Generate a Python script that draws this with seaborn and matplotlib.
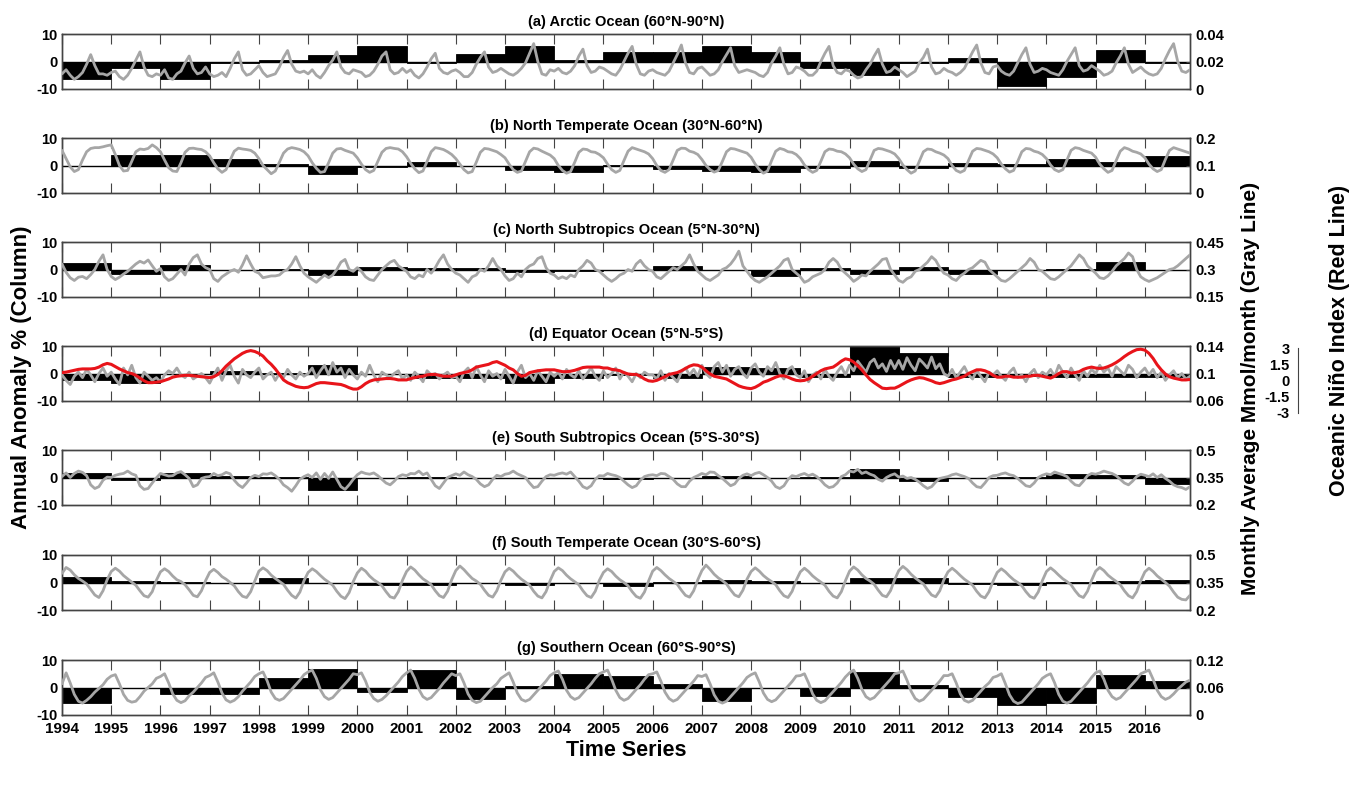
import numpy as np
import pandas as pd
import matplotlib
matplotlib.use("Agg")
import matplotlib.pyplot as plt
import seaborn as sns

sns.set_style("white")
plt.rcParams['font.family'] = ['Liberation Sans', 'DejaVu Sans']
plt.rcParams['font.weight'] = 'bold'
plt.rcParams['text.color'] = 'black'
plt.rcParams['axes.labelcolor'] = 'black'
plt.rcParams['xtick.color'] = 'black'
plt.rcParams['ytick.color'] = 'black'

years = list(range(1994, 2017))
titles = ["(a) Arctic Ocean (60°N-90°N)", "(b) North Temperate Ocean (30°N-60°N)",
          "(c) North Subtropics Ocean (5°N-30°N)", "(d) Equator Ocean (5°N-5°S)",
          "(e) South Subtropics Ocean (5°S-30°S)", "(f) South Temperate Ocean (30°S-60°S)",
          "(g) Southern Ocean (60°S-90°S)"]

# Annual anomaly % (black columns), one per year 1994-2016
bars_a = [-6.5, -2.5, -6.2, -0.4, 0.6, 2.3, 5.8, -0.4, 2.9, 5.8, 0.6, 3.3, 3.3, 5.8, 3.6, -2.3, -5.0, -0.4, 1.2, -8.8, -5.8, 4.1, -0.4]
bars_b = [-0.3, 4.0, 3.7, 2.5, 0.5, -3.1, -0.6, 1.4, -0.3, -1.5, -2.3, 0.2, -1.1, -2.0, -2.3, -0.9, 1.7, -0.9, 0.8, 0.6, 2.5, 1.4, 3.4]
bars_c = [2.4, -1.6, 1.8, 0.0, 0.1, -2.0, 0.9, 0.7, 0.7, -1.0, -0.6, -0.3, 1.1, -0.2, -2.5, 0.6, -1.7, 0.9, -1.6, -0.2, 0.1, 2.6, 0.0]
bars_d = [-2.3, -3.4, -0.2, 1.0, 0.3, 3.1, -0.2, -1.7, -1.5, -3.6, -1.5, -0.4, -1.6, 2.5, 1.9, -1.3, 10.5, 7.5, -1.1, -1.0, -1.1, -1.1, -1.2]
bars_e = [1.5, -0.9, 1.5, 0.6, 0.3, -4.4, 0.0, 0.2, -0.3, -0.2, -0.2, -0.7, -0.3, 0.5, -0.2, 0.2, 3.2, -1.1, -0.1, 0.1, 1.3, 0.9, -2.4]
bars_f = [2.0, 0.6, 0.3, -0.2, 1.6, 0.0, -1.0, -1.0, -0.3, -0.8, -0.3, -1.2, 0.3, 1.0, 0.4, 0.0, 1.5, 1.7, -0.6, -0.8, 0.3, 0.5, 1.0]
bars_g = [-5.8, -0.3, -2.5, -2.3, 3.5, 6.6, -1.7, 6.4, -4.1, 0.6, 5.0, 4.1, 1.2, -5.0, -0.2, -3.2, 5.6, 0.9, -3.5, -6.2, -5.5, 4.4, 2.3]

# Monthly average mmol/month (gray lines), Jan 1994 - Dec 2016
gray_a = [
 .011,.014,.010,.007,.009,.012,.018,.025,.017,.011,.011,.010,
 .012,.013,.009,.007,.010,.015,.021,.027,.016,.010,.009,.011,
 .010,.014,.008,.007,.011,.013,.019,.024,.015,.011,.012,.016,
 .011,.009,.010,.012,.009,.015,.022,.027,.014,.010,.011,.014,
 .017,.012,.009,.010,.011,.016,.023,.028,.018,.013,.012,.013,
 .011,.014,.010,.008,.012,.017,.021,.027,.016,.012,.011,.014,
 .013,.012,.009,.010,.013,.018,.024,.027,.014,.011,.012,.015,
 .012,.014,.010,.008,.011,.016,.022,.026,.015,.012,.011,.013,
 .014,.012,.009,.009,.012,.018,.023,.027,.016,.012,.013,.015,
 .013,.011,.010,.012,.015,.019,.026,.033,.020,.011,.010,.014,
 .013,.015,.012,.011,.013,.017,.024,.029,.017,.012,.013,.016,
 .015,.013,.011,.010,.014,.020,.026,.031,.018,.011,.010,.013,
 .014,.012,.011,.010,.013,.019,.025,.032,.019,.012,.011,.015,
 .016,.013,.010,.011,.014,.020,.025,.030,.017,.012,.013,.014,
 .013,.012,.010,.009,.012,.019,.024,.030,.018,.011,.012,.016,
 .015,.013,.010,.010,.013,.020,.026,.031,.017,.012,.011,.014,
 .013,.010,.008,.009,.014,.018,.024,.029,.018,.012,.013,.016,
 .014,.012,.009,.011,.013,.019,.023,.029,.016,.011,.012,.015,
 .013,.012,.010,.012,.015,.021,.027,.032,.019,.012,.011,.016,
 .017,.013,.011,.010,.013,.019,.025,.030,.018,.012,.013,.015,
 .014,.012,.011,.010,.014,.020,.025,.030,.017,.013,.014,.017,
 .015,.013,.010,.011,.013,.019,.024,.030,.018,.012,.014,.016,
 .013,.011,.010,.011,.015,.022,.028,.033,.020,.013,.012,.014]
gray_b = [
 .155,.125,.095,.078,.085,.120,.150,.162,.165,.165,.168,.172,
 .175,.140,.100,.080,.082,.115,.150,.160,.158,.162,.175,.165,
 .150,.120,.092,.080,.078,.110,.148,.162,.163,.160,.158,.150,
 .135,.110,.088,.075,.085,.120,.152,.163,.160,.158,.155,.145,
 .125,.100,.085,.070,.080,.112,.145,.160,.165,.162,.158,.150,
 .135,.110,.090,.075,.078,.110,.145,.160,.162,.155,.150,.145,
 .128,.105,.085,.075,.082,.115,.148,.162,.165,.162,.160,.150,
 .132,.108,.088,.074,.080,.115,.150,.165,.162,.158,.150,.140,
 .125,.105,.085,.073,.078,.112,.148,.162,.160,.155,.150,.140,
 .128,.105,.085,.075,.080,.115,.150,.163,.160,.152,.145,.138,
 .125,.100,.082,.072,.078,.112,.148,.160,.158,.150,.148,.140,
 .128,.105,.085,.075,.082,.118,.152,.165,.160,.155,.150,.142,
 .125,.100,.082,.075,.085,.120,.155,.163,.162,.152,.148,.140,
 .122,.100,.085,.076,.082,.115,.150,.162,.160,.155,.150,.145,
 .130,.105,.085,.072,.080,.118,.152,.162,.158,.150,.148,.140,
 .125,.102,.085,.075,.082,.115,.150,.160,.158,.152,.150,.142,
 .128,.105,.088,.078,.085,.120,.155,.162,.160,.155,.150,.142,
 .125,.102,.085,.072,.080,.115,.150,.160,.158,.150,.145,.138,
 .125,.100,.082,.075,.082,.118,.152,.162,.160,.155,.150,.142,
 .128,.105,.088,.076,.082,.115,.150,.162,.160,.152,.148,.140,
 .125,.102,.085,.078,.085,.120,.155,.165,.162,.155,.150,.145,
 .130,.105,.088,.075,.082,.118,.152,.165,.160,.152,.148,.142,
 .128,.105,.088,.078,.085,.122,.155,.165,.160,.155,.150,.145]
gray_c = [
 .330,.285,.255,.240,.258,.262,.250,.272,.300,.345,.380,.300,
 .262,.245,.258,.275,.290,.310,.330,.345,.335,.352,.320,.290,
 .305,.260,.240,.250,.275,.300,.270,.330,.365,.380,.330,.310,
 .300,.250,.235,.260,.275,.290,.300,.285,.325,.375,.330,.290,
 .280,.255,.260,.265,.265,.270,.290,.300,.330,.370,.320,.280,
 .260,.245,.230,.250,.270,.255,.270,.300,.340,.355,.300,.290,
 .310,.290,.260,.245,.240,.270,.300,.320,.340,.350,.320,.305,
 .290,.260,.250,.270,.260,.300,.280,.310,.350,.380,.330,.300,
 .280,.270,.250,.230,.260,.270,.300,.290,.320,.360,.320,.300,
 .265,.240,.250,.280,.260,.300,.320,.330,.360,.370,.310,.280,
 .270,.250,.260,.250,.270,.260,.300,.320,.350,.335,.300,.290,
 .270,.250,.235,.250,.270,.280,.300,.290,.330,.350,.320,.300,
 .290,.260,.250,.270,.290,.310,.300,.320,.340,.380,.330,.290,
 .270,.250,.240,.255,.270,.300,.310,.330,.360,.400,.320,.290,
 .260,.240,.230,.245,.260,.280,.300,.320,.350,.360,.300,.280,
 .260,.230,.240,.260,.270,.280,.300,.340,.360,.340,.300,.280,
 .260,.235,.250,.270,.265,.290,.310,.330,.355,.360,.300,.270,
 .240,.230,.250,.260,.290,.300,.320,.340,.370,.350,.310,.280,
 .270,.250,.240,.265,.280,.300,.310,.330,.350,.340,.300,.280,
 .260,.240,.235,.250,.270,.290,.310,.330,.360,.340,.300,.290,
 .270,.250,.245,.260,.280,.300,.320,.350,.380,.360,.320,.300,
 .280,.255,.250,.265,.290,.320,.340,.360,.390,.370,.300,.260,
 .245,.235,.245,.255,.270,.285,.300,.305,.320,.340,.360,.380]
gray_d = [
 .098,.090,.084,.096,.102,.094,.106,.098,.088,.100,.108,.096,
 .102,.092,.084,.108,.098,.112,.094,.086,.102,.096,.090,.094,
 .088,.098,.104,.100,.108,.098,.094,.102,.092,.096,.100,.094,
 .086,.098,.108,.090,.104,.112,.096,.086,.106,.098,.094,.102,
 .108,.092,.098,.102,.090,.100,.094,.106,.098,.092,.102,.096,
 .100,.108,.094,.104,.112,.098,.116,.102,.108,.094,.106,.098,
 .092,.102,.096,.112,.098,.088,.102,.098,.094,.100,.104,.092,
 .098,.090,.102,.096,.088,.104,.098,.100,.092,.098,.102,.094,
 .096,.088,.102,.108,.094,.110,.098,.088,.104,.096,.100,.092,
 .106,.096,.086,.102,.112,.094,.100,.090,.104,.096,.088,.102,
 .096,.102,.092,.106,.098,.094,.104,.092,.100,.108,.096,.090,
 .104,.094,.100,.108,.092,.102,.096,.088,.100,.094,.102,.098,
 .098,.092,.104,.090,.100,.094,.088,.102,.108,.098,.106,.096,
 .112,.100,.094,.110,.116,.102,.112,.096,.106,.110,.100,.094,
 .108,.114,.102,.096,.110,.104,.116,.100,.092,.106,.110,.098,
 .094,.104,.088,.098,.102,.092,.106,.096,.090,.102,.110,.098,
 .112,.104,.118,.110,.102,.116,.121,.108,.114,.103,.119,.107,
 .119,.106,.123,.112,.104,.121,.115,.108,.124,.107,.114,.100,
 .096,.106,.094,.102,.110,.098,.092,.104,.096,.088,.102,.098,
 .104,.096,.090,.102,.108,.094,.098,.088,.100,.106,.094,.102,
 .098,.106,.096,.112,.102,.094,.108,.098,.090,.104,.096,.106,
 .100,.112,.102,.108,.096,.110,.104,.098,.112,.106,.094,.102,
 .108,.098,.106,.094,.102,.090,.098,.104,.094,.100,.092,.096]
gray_e = [
 .355,.375,.350,.372,.385,.378,.360,.310,.290,.300,.335,.352,
 .350,.362,.368,.372,.385,.370,.362,.305,.285,.290,.320,.348,
 .372,.365,.358,.360,.375,.382,.365,.345,.300,.310,.345,.352,
 .355,.372,.360,.365,.378,.370,.335,.310,.295,.320,.350,.362,
 .355,.370,.368,.375,.360,.340,.310,.295,.275,.305,.340,.355,
 .365,.350,.375,.340,.372,.345,.380,.340,.300,.285,.310,.340,
 .365,.380,.372,.368,.375,.360,.340,.320,.310,.330,.355,.365,
 .360,.372,.370,.385,.365,.375,.340,.305,.290,.320,.350,.360,
 .370,.362,.380,.365,.355,.340,.315,.300,.310,.340,.362,.355,
 .368,.372,.385,.370,.360,.350,.320,.295,.300,.330,.355,.365,
 .362,.370,.375,.368,.380,.355,.330,.300,.290,.305,.340,.360,
 .358,.372,.365,.360,.350,.330,.310,.295,.305,.335,.355,.362,
 .365,.360,.372,.370,.355,.340,.315,.300,.300,.330,.350,.360,
 .372,.365,.380,.378,.360,.345,.325,.305,.315,.345,.362,.370,
 .360,.372,.378,.365,.350,.330,.300,.290,.305,.340,.360,.355,
 .365,.372,.360,.368,.355,.335,.310,.295,.300,.320,.355,.365,
 .385,.380,.395,.372,.380,.368,.360,.340,.330,.350,.362,.370,
 .352,.358,.345,.350,.340,.325,.305,.290,.300,.325,.345,.350,
 .355,.365,.370,.362,.355,.345,.320,.300,.295,.320,.350,.360,
 .362,.370,.375,.365,.360,.345,.325,.305,.300,.320,.350,.362,
 .370,.365,.380,.372,.365,.355,.330,.310,.305,.330,.360,.372,
 .368,.375,.385,.378,.372,.360,.340,.320,.310,.330,.355,.368,
 .362,.355,.370,.350,.365,.345,.330,.310,.300,.295,.285,.300]
gray_f = [
 .400,.432,.418,.392,.372,.358,.342,.312,.282,.268,.305,.365,
 .410,.428,.412,.388,.370,.352,.335,.305,.278,.270,.300,.362,
 .408,.425,.410,.385,.365,.355,.338,.310,.280,.272,.305,.360,
 .405,.422,.405,.382,.368,.350,.332,.300,.275,.268,.300,.358,
 .412,.430,.415,.390,.372,.356,.340,.308,.280,.265,.298,.360,
 .405,.425,.410,.388,.368,.352,.335,.302,.275,.262,.295,.355,
 .402,.428,.412,.385,.365,.350,.332,.300,.272,.265,.300,.362,
 .410,.435,.418,.392,.370,.355,.338,.305,.278,.268,.302,.365,
 .415,.440,.420,.395,.372,.358,.340,.308,.280,.270,.305,.362,
 .408,.428,.412,.388,.368,.352,.335,.302,.276,.266,.300,.360,
 .410,.430,.415,.390,.370,.354,.338,.305,.278,.268,.302,.362,
 .405,.425,.410,.385,.365,.350,.332,.300,.274,.264,.298,.358,
 .412,.432,.415,.392,.372,.356,.340,.308,.280,.270,.305,.365,
 .415,.445,.422,.395,.375,.360,.342,.310,.282,.272,.308,.368,
 .410,.430,.412,.388,.370,.355,.338,.305,.278,.268,.302,.362,
 .408,.428,.410,.386,.368,.352,.335,.302,.276,.266,.300,.360,
 .412,.435,.418,.392,.372,.358,.340,.308,.280,.272,.306,.366,
 .415,.438,.420,.395,.375,.358,.342,.310,.282,.272,.305,.365,
 .408,.428,.410,.388,.368,.352,.335,.302,.276,.266,.300,.358,
 .405,.425,.408,.385,.365,.350,.332,.300,.274,.264,.298,.360,
 .410,.430,.412,.390,.370,.355,.338,.305,.278,.268,.302,.362,
 .412,.432,.415,.390,.372,.356,.338,.305,.278,.266,.300,.360,
 .408,.428,.410,.386,.368,.350,.330,.298,.270,.258,.255,.280]
gray_g = [
 .068,.092,.070,.045,.030,.026,.032,.040,.050,.058,.066,.078,
 .085,.088,.068,.045,.032,.028,.030,.040,.052,.060,.068,.080,
 .084,.090,.070,.046,.032,.027,.031,.042,.050,.060,.070,.082,
 .086,.092,.072,.048,.033,.028,.032,.040,.052,.062,.072,.084,
 .090,.094,.075,.050,.036,.032,.036,.046,.056,.066,.076,.088,
 .094,.098,.080,.055,.040,.034,.038,.048,.058,.068,.078,.090,
 .088,.092,.074,.050,.036,.030,.034,.042,.052,.062,.072,.084,
 .092,.098,.080,.056,.040,.034,.038,.048,.058,.070,.080,.090,
 .086,.090,.070,.046,.032,.027,.030,.040,.050,.060,.068,.080,
 .086,.092,.072,.048,.034,.030,.034,.044,.054,.064,.074,.086,
 .092,.096,.078,.054,.040,.034,.038,.048,.058,.068,.080,.090,
 .094,.098,.078,.054,.038,.032,.036,.046,.056,.066,.078,.088,
 .090,.094,.074,.050,.036,.030,.034,.044,.054,.064,.074,.086,
 .084,.088,.068,.044,.030,.026,.030,.040,.050,.060,.070,.082,
 .088,.092,.072,.048,.034,.029,.033,.043,.053,.063,.073,.085,
 .086,.090,.070,.046,.032,.027,.031,.041,.051,.061,.071,.083,
 .092,.098,.080,.056,.040,.034,.038,.048,.058,.068,.078,.090,
 .092,.096,.076,.052,.036,.030,.034,.044,.054,.064,.074,.086,
 .086,.090,.070,.046,.032,.028,.032,.042,.052,.062,.070,.082,
 .085,.090,.068,.044,.030,.025,.028,.038,.048,.058,.068,.080,
 .086,.090,.070,.045,.030,.026,.030,.040,.050,.060,.070,.082,
 .092,.096,.078,.054,.040,.034,.038,.048,.058,.068,.078,.090,
 .094,.098,.078,.054,.040,.034,.038,.046,.056,.064,.072,.076]

# Oceanic Nino Index (red line), monthly
oni = [
 0.1,0.15,0.25,0.35,0.45,0.5,0.5,0.5,0.55,0.7,0.95,1.1,
 1.0,0.75,0.5,0.3,0.1,0.0,-0.2,-0.5,-0.8,-1.0,-1.0,-0.95,
 -0.9,-0.75,-0.6,-0.4,-0.3,-0.25,-0.2,-0.2,-0.25,-0.3,-0.35,-0.4,
 -0.45,-0.35,-0.1,0.3,0.8,1.2,1.6,1.9,2.2,2.4,2.5,2.4,
 2.2,1.9,1.4,1.0,0.5,-0.1,-0.7,-1.0,-1.2,-1.4,-1.5,-1.55,
 -1.5,-1.3,-1.1,-1.0,-1.0,-1.05,-1.1,-1.15,-1.2,-1.35,-1.55,-1.7,
 -1.7,-1.45,-1.1,-0.85,-0.7,-0.65,-0.6,-0.55,-0.55,-0.6,-0.7,-0.7,
 -0.7,-0.55,-0.45,-0.35,-0.3,-0.15,-0.1,-0.1,-0.2,-0.3,-0.3,-0.3,
 -0.15,0.0,0.1,0.2,0.4,0.7,0.8,0.9,1.0,1.2,1.3,1.1,
 0.9,0.6,0.4,0.0,-0.3,-0.2,0.1,0.2,0.3,0.35,0.4,0.4,
 0.4,0.3,0.2,0.2,0.25,0.35,0.5,0.65,0.7,0.7,0.7,0.7,
 0.6,0.6,0.45,0.4,0.3,0.1,-0.05,-0.1,-0.1,-0.3,-0.6,-0.8,
 -0.85,-0.75,-0.55,-0.35,-0.1,0.0,0.1,0.3,0.55,0.8,0.95,0.9,
 0.7,0.3,-0.05,-0.3,-0.4,-0.5,-0.6,-0.85,-1.1,-1.35,-1.5,-1.6,
 -1.65,-1.5,-1.25,-0.95,-0.8,-0.6,-0.4,-0.25,-0.25,-0.4,-0.6,-0.75,
 -0.8,-0.75,-0.6,-0.3,0.0,0.3,0.5,0.6,0.7,1.0,1.35,1.6,
 1.5,1.25,0.85,0.4,-0.15,-0.65,-1.0,-1.3,-1.6,-1.65,-1.6,-1.6,
 -1.4,-1.15,-0.9,-0.7,-0.55,-0.45,-0.5,-0.65,-0.8,-1.0,-1.1,-1.0,
 -0.85,-0.7,-0.6,-0.45,-0.3,0.0,0.2,0.4,0.4,0.3,0.1,-0.2,
 -0.4,-0.4,-0.3,-0.3,-0.4,-0.4,-0.4,-0.3,-0.3,-0.2,-0.2,-0.3,
 -0.4,-0.5,-0.3,0.0,0.2,0.2,0.05,0.1,0.2,0.45,0.6,0.7,
 0.6,0.55,0.6,0.75,0.95,1.2,1.5,1.85,2.15,2.4,2.6,2.65,
 2.55,2.2,1.65,0.95,0.4,-0.05,-0.35,-0.5,-0.6,-0.7,-0.7,-0.65]

right_ticks = [[0, 0.02, 0.04], [0, 0.1, 0.2], [0.15, 0.3, 0.45], [0.06, 0.1, 0.14],
               [0.2, 0.35, 0.5], [0.2, 0.35, 0.5], [0, 0.06, 0.12]]
right_labels = [["0", "0.02", "0.04"], ["0", "0.1", "0.2"], ["0.15", "0.3", "0.45"],
                ["0.06", "0.1", "0.14"], ["0.2", "0.35", "0.5"], ["0.2", "0.35", "0.5"],
                ["0", "0.06", "0.12"]]
oni_ticks = [-3, -1.5, 0, 1.5, 3]
oni_labels = ["-3", "-1.5", "0", "1.5", "3"]

bars_all = [bars_a, bars_b, bars_c, bars_d, bars_e, bars_f, bars_g]
gray_all = [gray_a, gray_b, gray_c, gray_d, gray_e, gray_f, gray_g]

months = np.arange(1, 12 * len(years) + 1)
year_start = np.arange(len(years)) * 12 + 1

W_PX, H_PX = 1353, 785
fig = plt.figure(figsize=(W_PX / 100, H_PX / 100), dpi=100)

left_px, right_px = 62, 1190
tops_px = [34, 138, 242, 346, 450, 555, 660]
h_px = 55
GRAY = "#a6a6a6"
FS_TICK = 10.5
SPINE = '#444444'

def frac_rect(top):
    return [left_px / W_PX, 1 - (top + h_px) / H_PX, (right_px - left_px) / W_PX, h_px / H_PX]

for i in range(7):
    rect = frac_rect(tops_px[i])
    ax = fig.add_axes(rect)
    ax.bar(year_start, bars_all[i], width=12, align='edge', color='black',
           edgecolor='black', linewidth=0.6, zorder=2)
    ax.axhline(0, color='black', lw=1.0, zorder=2)
    ax.set_ylim(-10, 10)
    ax.set_yticks([-10, 0, 10])
    ax.set_yticklabels(["-10", "0", "10"], fontsize=FS_TICK, fontweight='bold')
    ax.set_xlim(1, 276)
    ax.set_xticks(year_start)
    if i == 6:
        ax.set_xticklabels([str(y) for y in years], fontsize=11, fontweight='bold')
    else:
        ax.set_xticklabels([])
    ax.tick_params(axis='x', direction='in', length=7, top=True, bottom=True, width=0.8,
                   color=SPINE, pad=5, labelcolor='black')
    ax.tick_params(axis='y', direction='in', length=3, left=True, width=0.8,
                   color=SPINE, pad=3, labelcolor='black')
    for s in ax.spines.values():
        s.set_color(SPINE)
        s.set_linewidth(1.0)
    ax.set_title(titles[i], fontsize=FS_TICK, fontweight='bold', pad=6, color='black')

    ax2 = ax.twinx()
    df = pd.DataFrame({"month": months, "value": gray_all[i]})
    sns.lineplot(data=df, x="month", y="value", ax=ax2, color=GRAY, lw=2.0, zorder=3)
    ax2.set_ylim(right_ticks[i][0], right_ticks[i][-1])
    ax2.set_yticks(right_ticks[i])
    ax2.set_yticklabels(right_labels[i], fontsize=FS_TICK, fontweight='bold')
    ax2.set_ylabel("")
    ax2.set_xlabel("")
    ax2.tick_params(axis='y', direction='in', length=3, right=True, width=0.8,
                    color=SPINE, pad=4, labelcolor='black')
    for s in ax2.spines.values():
        s.set_color(SPINE)
        s.set_linewidth(1.0)
    ax.set_xlabel("")

    if i == 3:
        ax3 = fig.add_axes(rect)
        ax3.patch.set_visible(False)
        dfo = pd.DataFrame({"month": months, "oni": oni})
        sns.lineplot(data=dfo, x="month", y="oni", ax=ax3, color="#e8141a", lw=2.2)
        ax3.set_xlim(1, 276)
        ax3.set_ylim(-3, 3)
        ax3.axis('off')

        # separate ruler axis for the ONI
        ax4 = fig.add_axes([1298 / W_PX, 1 - 413 / H_PX, 0.001, 65 / H_PX])
        ax4.patch.set_visible(False)
        ax4.set_ylim(-3, 3)
        ax4.set_xticks([])
        ax4.set_yticks(oni_ticks)
        ax4.set_yticklabels(oni_labels, fontsize=FS_TICK, fontweight='bold')
        for k in ['top', 'bottom', 'right']:
            ax4.spines[k].set_visible(False)
        ax4.spines['left'].set_color(SPINE)
        ax4.tick_params(axis='y', direction='out', length=4, width=0.8, color=SPINE, pad=2,
                        labelcolor='black')

fig.text(22 / W_PX, 1 - 377 / H_PX, "Annual Anomaly % (Column)", rotation=90,
         ha='center', va='center', fontsize=16, fontweight='bold')
fig.text(1251 / W_PX, 1 - 388 / H_PX, "Monthly Average Mmol/month (Gray Line)", rotation=90,
         ha='center', va='center', fontsize=15, fontweight='bold')
fig.text(1340 / W_PX, 1 - 340 / H_PX, "Oceanic Niño Index (Red Line)", rotation=90,
         ha='center', va='center', fontsize=15.5, fontweight='bold')
fig.text(626 / W_PX, 1 - 751 / H_PX, "Time Series", ha='center', va='center',
         fontsize=15.5, fontweight='bold')

fig.savefig("out.png", dpi=100)
